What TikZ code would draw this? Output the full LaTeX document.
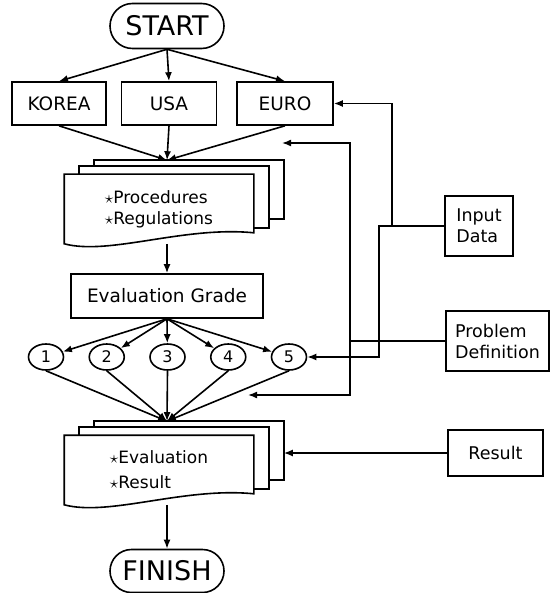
\documentclass[tikz,border=0pt]{standalone}
\usepackage{fontspec}
\setmainfont{DejaVu Sans}
\usetikzlibrary{positioning,calc,shapes.misc,shapes.geometric,arrows.meta}

% pile of three sheets behind a text node
\newcommand\docpile[1]{%
  \draw (#1.north west) -- (#1.north east) -- ([yshift=11pt]#1.south east)
    .. controls ([xshift=-70pt,yshift=18pt]#1.south east)
    and ([xshift=45pt,yshift=-12pt]#1.south west) .. (#1.south west) -- cycle;
  \draw ([yshift=16pt]#1.south east) -- ++(15,0)
    |- ([xshift=15pt,yshift=8pt]#1.north west) -- ([xshift=15pt]#1.north west);
  \draw ([xshift=15pt,yshift=25pt]#1.south east) -- ++(15,0)
    |- ([xshift=30pt,yshift=14pt]#1.north west) -- ([xshift=30pt,yshift=8pt]#1.north west);
}

\begin{document}
\begin{tikzpicture}[x=1pt,y=-1pt,line width=1.6pt,>={Latex[length=9pt,width=7pt]}]
  \useasboundingbox (0,0) rectangle (558,593);
  \begin{scope}[
    every node/.style={
      draw,
      align=center,
      inner sep=0pt,
      font=\fontsize{18.5}{22}\selectfont,
    },
    ]
    \node[rounded rectangle,minimum width=114pt,minimum height=45pt,
      font=\fontsize{27}{32}\selectfont] (start) at (167,26) {START};
    \node[minimum width=94pt,minimum height=43pt] (korea) at (59,103.5) {KOREA};
    \node[minimum width=95pt,minimum height=43pt] (usa) at (169,103.5) {USA};
    \node[minimum width=96pt,minimum height=43pt] (euro) at (285,103.5) {EURO};
    \node[minimum width=192pt,minimum height=44pt] (grade) at (167,296) {Evaluation Grade};
    \node[rounded rectangle,minimum width=114pt,minimum height=43pt,
      font=\fontsize{27}{32}\selectfont] (finish) at (167,571) {FINISH};
  \end{scope}
  \begin{scope}[
    every node/.style={
      draw,
      align=left,
      inner sep=0pt,
      font=\fontsize{17.5}{21}\selectfont,
    },
    ]
    \node[minimum width=68pt,minimum height=60pt] (input) at (479,226) {Input\\Data};
    \node[minimum width=103pt,minimum height=60pt] (problem) at (497.5,341) {Problem\\Definition};
    \node[minimum width=95pt,minimum height=46pt] (result) at (495.5,453) {Result};
  \end{scope}
  \begin{scope}[
    every node/.style={
      align=left,
      inner sep=0pt,
      minimum width=188pt,
      minimum height=68pt,
      font=\fontsize{17}{21}\selectfont,
    },
    ]
    \node (rules) at (159,209) {$\star$Procedures\\$\star$Regulations};
    \node (evalres) at (159,470) {$\star$Evaluation\\[4pt]$\star$Result};
  \end{scope}
  \docpile{rules}
  \docpile{evalres}
  \foreach \i in {1,...,5}
    \node[ellipse,draw,minimum width=35pt,minimum height=26pt,inner sep=0pt,
      font=\fontsize{16}{19}\selectfont] (c\i) at ({46+60.75*(\i-1)},357) {\i};

  \coordinate (rules-in) at ([xshift=8pt,yshift=14pt]rules.north);
  \coordinate (evalres-in) at ([xshift=8pt,yshift=14pt]evalres.north);
  \coordinate (evalres-r) at ([xshift=30pt]evalres.east);
  \coordinate (rules-side) at (282,143);
  \coordinate (eval-side) at (248,395);

  \path[->]
  (start.south) edge (korea.north)
  (start.south) edge (usa.north)
  (start.south) edge (euro.north)
  (korea.south) edge (rules-in)
  (usa.south) edge (rules-in)
  (euro.south) edge (rules-in)
  (grade.north |- rules.south) edge (grade.north)
  (finish.north |- evalres.south) edge (finish.north);
  \foreach \i in {1,...,5} {
    \draw[->] (grade.south) -- (c\i);
    \draw[->] (c\i.south) -- (evalres-in);
  }

  % side inputs
  \draw[->] (input.west) -| ([xshift=58pt]euro.east) -- (euro.east);
  \draw[->] (input.west) -| ([xshift=71.5pt]c5.east) -- (c5.east);
  \draw[->] (problem.west) -| ([xshift=68pt]rules-side) -- (rules-side);
  \draw[->] (problem.west) -| ([xshift=102pt]eval-side) -- (eval-side);
  \draw[->] (result.west) -- (result.west -| evalres-r);
\end{tikzpicture}
\end{document}
